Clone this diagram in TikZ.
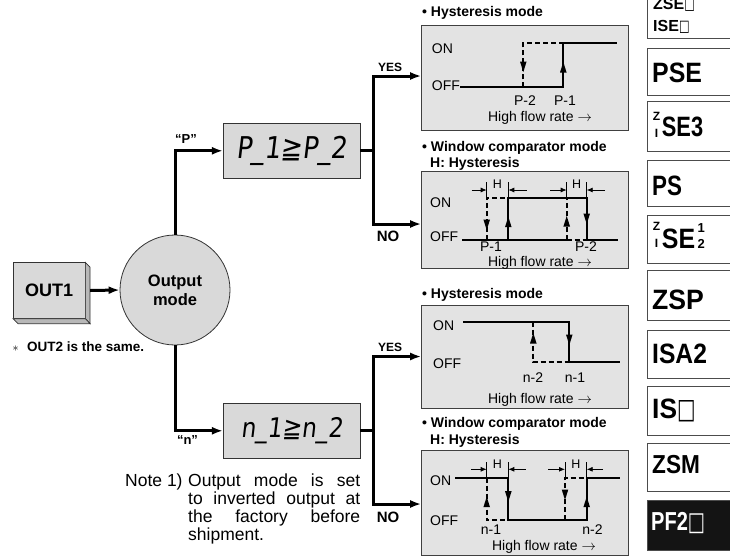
\documentclass[tikz,border=0pt]{standalone}
\usepackage{fontspec}
\usepackage{graphicx}
\setmainfont{Liberation Sans}
\newfontfamily\dejavu{DejaVu Sans}
\newfontfamily\lcdfont[FakeSlant=0.14]{DejaVu Sans}
\usetikzlibrary{arrows.meta,calc}
\newcommand\fsz[1]{\fontsize{#1}{#1}\selectfont}
\newcommand\sqbox{{\dejavu\scalebox{0.7}[1]{□}}}
\newcommand\tipup[2]{\fill (#1,#2) -- ++(-3.3,10.5) -- ++(6.6,0) -- cycle;}
\newcommand\tipdn[2]{\fill (#1,#2) -- ++(-3.3,-10.5) -- ++(6.6,0) -- cycle;}
\begin{document}
\begin{tikzpicture}[x=1pt,y=-1pt,
  conn/.style={line width=3pt,-{Latex[length=11pt,width=8pt]},line join=miter},
  thickln/.style={line width=3pt,line join=miter},
  panel/.style={draw=black!75,fill=black!11,line width=1pt,minimum width=206.3,inner sep=0},
  dbox/.style={draw=black!80,fill=black!15,line width=0.8pt,inner sep=0,minimum width=136.7,minimum height=55},
  trace/.style={line width=2pt,line join=miter},
  dtrace/.style={line width=2pt,dash pattern=on 5pt off 3pt},
  dimarr/.style={line width=0.8pt,-{Latex[length=6pt,width=5pt]}},
  tickln/.style={line width=0.8pt},
  lbl/.style={font=\fsz{14},inner sep=0,anchor=base},
  lblw/.style={font=\fsz{14},inner sep=0,anchor=base west},
  hdr/.style={font=\bfseries\fsz{14},inner sep=0,anchor=base west},
  hlbl/.style={font=\fsz{12.5},inner sep=0,anchor=base},
  yn/.style={font=\bfseries\fsz{12},inner sep=0},
  side/.style={draw=black!70,line width=1pt},
  sidetxt/.style={font=\bfseries\fsz{28},inner sep=0,anchor=base west},
  small/.style={font=\bfseries\fsz{12},inner sep=0,anchor=base}]
\useasboundingbox (0,0) rectangle (730,557);
\clip (0,0) rectangle (730,557);

% OUT1 box (3D)
\node[draw=black!80,fill=black!15,line width=0.7pt,minimum width=71.7,minimum height=55.6,inner sep=0,font=\bfseries\fsz{18}] (out1) at (49.15,290.5) {OUT1};
\filldraw[fill=black!28,draw=black!80,line width=0.7pt] (out1.north east) -- ++(4.7,4.8) -- ($(out1.south east)+(4.7,5)$) -- (out1.south east) -- cycle;
\filldraw[fill=black!28,draw=black!80,line width=0.7pt] (out1.south west) -- ++(5,5) -- ($(out1.south east)+(4.7,5)$) -- (out1.south east) -- cycle;
\node[anchor=base west,inner sep=0,font=\fsz{13}] (ast) at (12.5,351.7) {$\ast$};
\node[anchor=base west,inner sep=0,font=\bfseries\fsz{13.5}] (out2) at (27,351.7) {OUT2 is the same.};

% Output mode circle
\node[circle,draw=black!80,fill=black!15,line width=0.8pt,minimum size=110,inner sep=0,font=\bfseries\fontsize{16.5}{19}\selectfont,align=center] (om) at (175,290) {Output\\mode};
\draw[conn] ($(out1.east)+(4.7,0)$) -- (om.west);

% displays
\node[dbox,font=\lcdfont\fsz{30}] (pbox) at (291.7,150.8) {\scalebox{0.86}[1]{P\_1≧P\_2}};
\node[dbox,font=\lcdfont\fsz{27}] (nbox) at (291.7,430.8) {\scalebox{0.86}[1]{n\_1≧n\_2}};
\draw[conn] (om.north) |- (pbox.west);
\draw[conn] (om.south) |- (nbox.west);
\node[font=\bfseries\fsz{13},inner sep=0] (qp) at (186,139) {“P”};
\node[font=\bfseries\fsz{13},inner sep=0] (qn) at (187.5,440) {“n”};

% panels
\node[panel,minimum height=105] (p1) at (524.85,77.5) {};
\node[panel,minimum height=96.6] (p2) at (524.85,220) {};
\node[panel,minimum height=103] (p3) at (524.85,356.5) {};
\node[panel,minimum height=105] (p4) at (524.85,502.5) {};

% branch connectors
\coordinate (pj) at ($(pbox.east)+(13,0)$);
\coordinate (nj) at ($(nbox.east)+(13,0)$);
\draw[thickln] (pbox.east) -- (pj);
\draw[thickln] (nbox.east) -- (nj);
\draw[conn] (pj) |- ($(p1.west)+(0,-1.5)$);
\draw[conn] (pj) |- ($(p2.west)+(0,4)$);
\draw[conn] (nj) |- (p3.west);
\draw[conn] (nj) |- ($(p4.west)+(0,1.5)$);
\node[yn] (yes1) at (390,67.5) {YES};
\node[yn,font=\bfseries\fsz{15}] (no1) at (388,236.5) {NO};
\node[yn] (yes2) at (390,347.5) {YES};
\node[yn,font=\bfseries\fsz{15}] (no2) at (388,517) {NO};

% panel 1: hysteresis (P)
\node[hdr] (h1) at (422,16.7) {• Hysteresis mode};
\node[lblw] (p1on) at (431.7,53.3) {ON};
\node[lblw] (p1off) at (431.7,90.5) {OFF};
\draw[trace] (460,87.3) -- (563.3,87.3) -- (563.3,43.3) -- (616.7,43.3);
\draw[dtrace] (523.3,87.3) -- (523.3,43.3) -- (563.3,43.3);
\tipup{563.3}{62}
\tipdn{523.3}{72}
\node[lbl] (p1a) at (525,105) {P-2};
\node[lbl] (p1b) at (565,105) {P-1};
\node[lbl] (p1c) at (540,121.7) {High flow rate $\rightarrow$};

% panel 2: window comparator (P)
\node[hdr] (h2) at (422,151.7) {• Window comparator mode};
\node[hdr] (h2b) at (430,167) {H: Hysteresis};
\node[lblw] (p2on) at (430,207) {ON};
\node[lblw] (p2off) at (430,241.7) {OFF};
\draw[trace] (462,240) -- (566.7,240);
\draw[trace] (508.3,240) -- (508.3,197.7) -- (586.7,197.7) -- (586.7,240) -- (618,240);
\draw[dtrace] (486.7,240) -- (486.7,197.7) -- (508.3,197.7);
\draw[dtrace] (566.7,240) -- (566.7,197.7);
\draw[dtrace] (566.7,240) -- (586.7,240);
\tipup{508.3}{216.7}
\tipdn{486.7}{230}
\tipup{566.7}{216}
\tipdn{586.7}{224}
\foreach \xx in {486.7,508.3,566.7,586.7} \draw[tickln] (\xx,182) -- (\xx,197.7);
\draw[dimarr] (471.7,190) -- (486.7,190);
\draw[dimarr] (526.7,190) -- (508.3,190);
\draw[dimarr] (550,190) -- (566.7,190);
\draw[dimarr] (605,190) -- (586.7,190);
\node[hlbl] (p2h1) at (497.5,188) {H};
\node[hlbl] (p2h2) at (576.7,188) {H};
\node[lbl] (p2a) at (491,251) {P-1};
\node[lbl] (p2b) at (586,251) {P-2};
\node[lbl] (p2c) at (540,266) {High flow rate $\rightarrow$};

% panel 3: hysteresis (n)
\node[hdr] (h3) at (422,298) {• Hysteresis mode};
\node[lblw] (p3on) at (433,330) {ON};
\node[lblw] (p3off) at (433,368) {OFF};
\draw[trace] (463.3,321.7) -- (569.3,321.7) -- (569.3,362.3) -- (620,362.3);
\draw[dtrace] (533.3,321.7) -- (533.3,362.3) -- (569.3,362.3);
\tipdn{569.3}{345}
\tipup{533.3}{333}
\node[lbl] (p3a) at (533,382) {n-2};
\node[lbl] (p3b) at (575,382) {n-1};
\node[lbl] (p3c) at (540,403) {High flow rate $\rightarrow$};

% panel 4: window comparator (n)
\node[hdr] (h4) at (422,427) {• Window comparator mode};
\node[hdr] (h4b) at (430,444.5) {H: Hysteresis};
\node[lblw] (p4on) at (430,485) {ON};
\node[lblw] (p4off) at (430,525) {OFF};
\draw[trace] (455,477.7) -- (508.3,477.7) -- (508.3,520) -- (586.7,520) -- (586.7,477.7) -- (620,477.7);
\draw[dtrace] (486.7,477.7) -- (486.7,520) -- (508.3,520);
\draw[dtrace] (565,520) -- (565,477.7) -- (586.7,477.7);
\tipdn{508.3}{501.7}
\tipup{586.7}{496.7}
\tipup{486.7}{496.7}
\tipdn{565}{500}
\foreach \xx in {486.7,508.3,565,586.7} \draw[tickln] (\xx,462) -- (\xx,477.7);
\draw[dimarr] (471,469.3) -- (486.7,469.3);
\draw[dimarr] (525.5,469.3) -- (508.3,469.3);
\draw[dimarr] (548.3,469.3) -- (565,469.3);
\draw[dimarr] (603,469.3) -- (586.7,469.3);
\node[hlbl] (p4h1) at (497.5,468) {H};
\node[hlbl] (p4h2) at (575.8,468) {H};
\node[lbl] (p4a) at (491,534.5) {n-1};
\node[lbl] (p4b) at (592.5,534.5) {n-2};
\node[lbl] (p4c) at (544,550) {High flow rate $\rightarrow$};

% note
\node[anchor=base west,inner sep=0,font=\fsz{17.5}] (note1) at (125,486.7) {Note 1)};
\node[anchor=north west,inner sep=0,font=\fontsize{17.5}{18}\selectfont,text width=172pt,align=justify] (note2) at (188,474) {Output mode is set\linebreak to inverted output at\linebreak the factory before\linebreak shipment.};

% sidebar
\draw[side] (647.3,-20) rectangle (745,38.3);
\draw[side] (647.3,48.3) rectangle (745,95);
\draw[side] (647.3,101.7) rectangle (745,151.7);
\draw[side] (647.3,160) rectangle (745,206.7);
\draw[side] (647.3,215) rectangle (745,263.3);
\draw[side] (647.3,270) rectangle (745,320);
\draw[side] (647.3,330) rectangle (745,378.3);
\draw[side] (647.3,386.7) rectangle (745,435);
\draw[side] (647.3,443.3) rectangle (745,491.7);
\filldraw[fill=black!92,draw=black!70,line width=1pt] (647.3,500) rectangle (745,550);
\node[sidetxt,font=\bfseries\fsz{16}] (s1a) at (653,9) {ZSE\sqbox};
\node[sidetxt,font=\bfseries\fsz{16}] (s1b) at (653,31.7) {ISE\sqbox};
\node[sidetxt] (s2) at (652,82) {\scalebox{0.89}[1]{PSE}};
\node[small] (s3z) at (656.5,120.5) {Z};
\node[small] (s3i) at (656.5,137) {I};
\node[sidetxt] (s3) at (661.7,136.7) {\scalebox{0.78}[1]{SE3}};
\node[sidetxt] (s4) at (652,195) {\scalebox{0.8}[1]{PS}};
\node[small] (s5z) at (656.5,230) {Z};
\node[small] (s5i) at (656.5,247) {I};
\node[sidetxt] (s5) at (661.7,248) {\scalebox{0.89}[1]{SE}};
\node[sidetxt,font=\bfseries\fsz{13}] (s5a) at (697.5,232) {1};
\node[sidetxt,font=\bfseries\fsz{13}] (s5b) at (697.5,248) {2};
\node[sidetxt] (s6) at (652,309) {\scalebox{0.95}[1]{ZSP}};
\node[sidetxt] (s7) at (652,363) {\scalebox{0.88}[1]{ISA2}};
\node[sidetxt] (s8) at (652,418) {\scalebox{0.94}[1]{IS}\sqbox};
\node[sidetxt,font=\bfseries\fsz{26}] (s9) at (652,473) {\scalebox{0.87}[1]{ZSM}};
\node[sidetxt,font=\bfseries\fsz{26},text=white] (s10) at (651,530) {\scalebox{0.77}[1]{PF2}\sqbox};
\end{tikzpicture}
\end{document}
